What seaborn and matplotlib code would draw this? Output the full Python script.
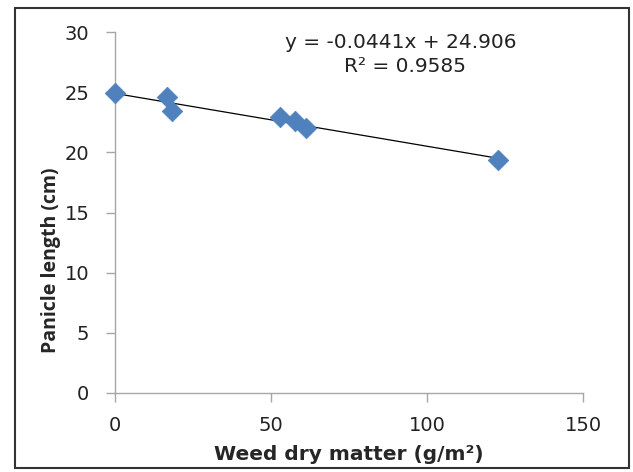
import matplotlib
matplotlib.use("Agg")
import matplotlib.pyplot as plt
import matplotlib.patches as mpatches
import seaborn as sns
import pandas as pd

weed_dry_matter = [0.0, 16.7, 18.3, 52.9, 57.7, 61.3, 122.8]
panicle_length = [24.9, 24.6, 23.4, 22.9, 22.6, 22.0, 19.4]
x_ticks = [0, 50, 100, 150]
y_ticks = [0, 5, 10, 15, 20, 25, 30]
equation_text = "y = -0.0441x + 24.906"
r2_text = "R² = 0.9585"
x_label = "Weed dry matter (g/m²)"
y_label = "Panicle length (cm)"

df = pd.DataFrame({"x": weed_dry_matter, "y": panicle_length})

sns.set_style("white")
plt.rcParams["font.family"] = ["DejaVu Sans"]

fig = plt.figure(figsize=(6.33, 4.72), dpi=100)
ax = fig.add_axes([115 / 633, 1 - 393 / 472, 468 / 633, 361 / 472])

sns.regplot(data=df, x="x", y="y", ax=ax, scatter=False, ci=None,
            truncate=True, line_kws={"color": "black", "lw": 0.9})
sns.scatterplot(data=df, x="x", y="y", ax=ax, marker="D", s=110,
                color="#4F81BD", edgecolor="#4F81BD", linewidth=0.5, zorder=3,
                clip_on=False)

ax.set_xlim(0, 150)
ax.set_ylim(0, 30)
ax.set_xticks(x_ticks)
ax.set_yticks(y_ticks)
for s in ["top", "right"]:
    ax.spines[s].set_visible(False)
for s in ["left", "bottom"]:
    ax.spines[s].set_color("#A6A6A6")
    ax.spines[s].set_linewidth(1.0)
ax.tick_params(axis="both", direction="out", length=6.5, width=1,
               color="#A6A6A6", labelsize=14, labelcolor="#222222",
               bottom=True, left=True)
ax.tick_params(axis="x", pad=10)
ax.tick_params(axis="y", pad=12)
ax.set_xlabel(x_label, fontsize=14.5, fontweight="bold", va="center")
ax.xaxis.set_label_coords(0.5, (393 - 455) / 361)
ax.set_ylabel(y_label, fontsize=14, fontweight="bold", va="center",
              family=["Open Sans", "DejaVu Sans"])
ax.yaxis.set_label_coords((51 - 115) / 468, (393 - 260) / 361)
for sp in ax.spines.values():
    sp.set_clip_on(False)

fig.text(401 / 633, 1 - 43 / 472, equation_text, ha="center", va="center",
         fontsize=14.5, color="#222222")
fig.text(405 / 633, 1 - 67 / 472, r2_text, ha="center", va="center",
         fontsize=14.5, color="#222222")

border = mpatches.Rectangle((15 / 633, 1 - 468 / 472), (629 - 15) / 633,
                            (468 - 8) / 472, transform=fig.transFigure,
                            fill=False, edgecolor="#333333", linewidth=1.5)
fig.patches.append(border)

fig.savefig("out.png", dpi=100)
